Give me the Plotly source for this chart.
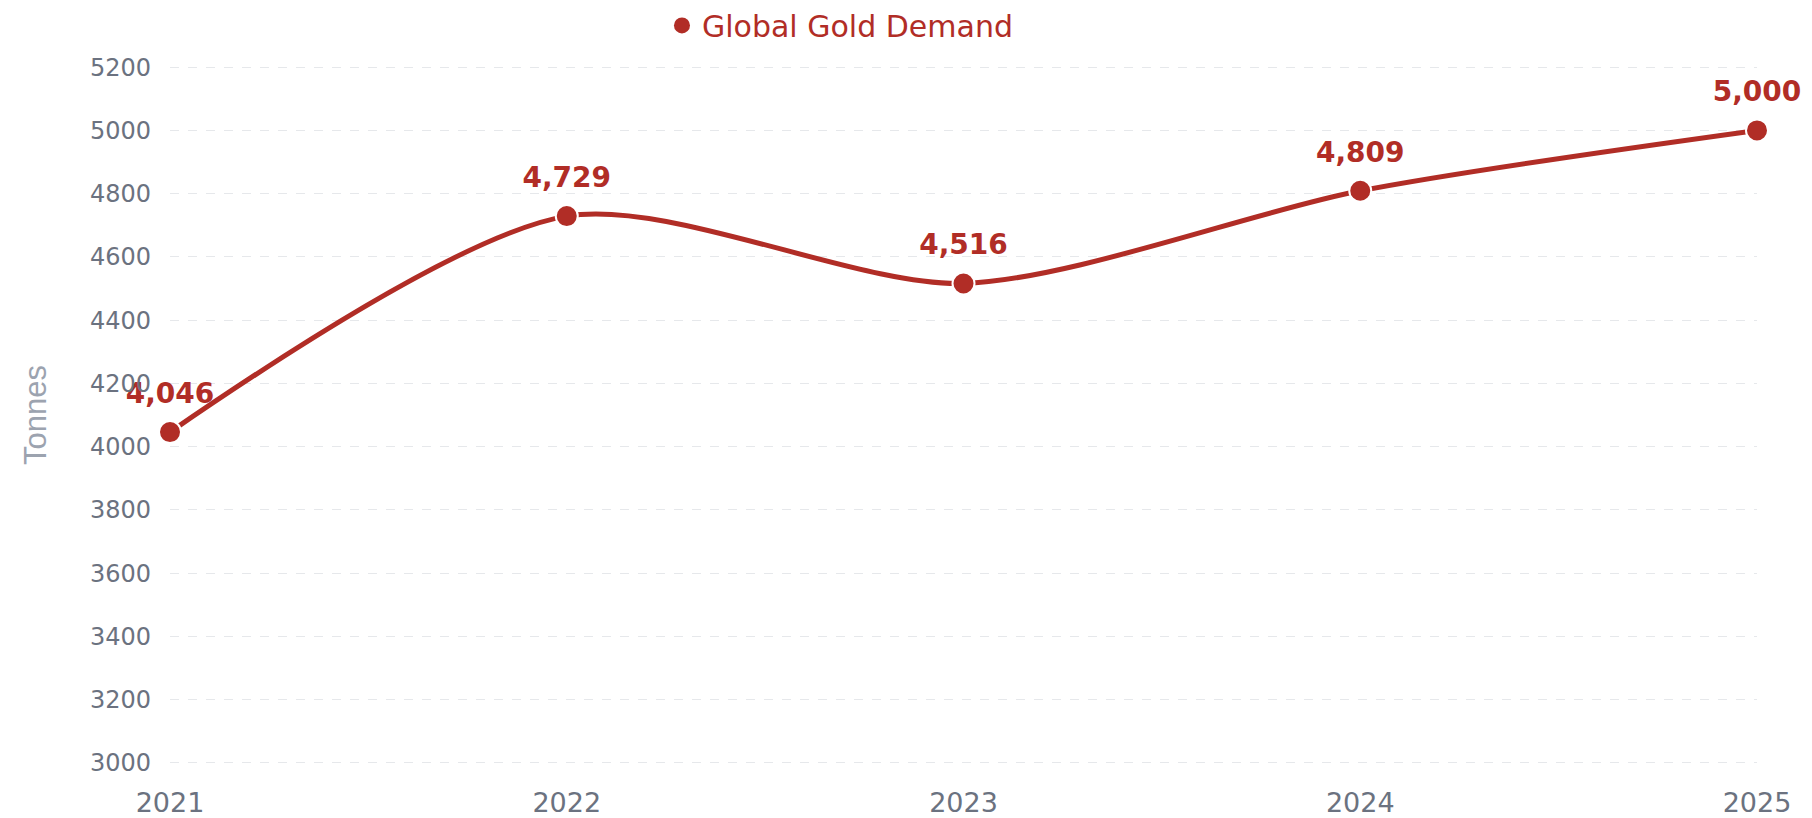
import plotly.graph_objects as go

# data
years = [2021, 2022, 2023, 2024, 2025]
demand = [4046, 4729, 4516, 4809, 5000]
labels = [f"{v:,}" for v in demand]

y_ticks = list(range(3000, 5201, 200))

RED = "#b12d26"
TICK_GREY = "#6b7280"

fig = go.Figure()

# value labels sit underneath the line (drawn first)
fig.add_trace(go.Scatter(
    x=years, y=demand, mode="markers+text",
    text=labels, textposition="top center",
    textfont=dict(family="DejaVu Sans", size=28, color=RED, weight="bold"),
    marker=dict(size=34, color="rgba(0,0,0,0)"),
    showlegend=False, hoverinfo="skip", cliponaxis=False,
))

fig.add_trace(go.Scatter(
    x=years, y=demand, mode="lines+markers",
    name="Global Gold Demand",
    line=dict(color=RED, width=5, shape="spline", smoothing=0.8),
    marker=dict(size=22, color=RED, line=dict(color="white", width=2)),
    showlegend=False, cliponaxis=False,
))

# legend entry: just a dot, like the original
fig.add_trace(go.Scatter(
    x=[None], y=[None], mode="markers", name="Global Gold Demand",
    marker=dict(size=24, color=RED),
))

# page body adds an 8px offset, so the figure is 8px smaller
fig.update_layout(
    width=1804, height=810,
    margin=dict(l=162, r=55, t=56, b=52, autoexpand=False),
    plot_bgcolor="white", paper_bgcolor="white",
    font=dict(family="DejaVu Sans", color=TICK_GREY),
    legend=dict(
        orientation="h", x=0.31, xanchor="left", y=1.055, yanchor="middle",
        font=dict(family="DejaVu Sans", size=30, color=RED),
    ),
    xaxis=dict(
        range=[2021, 2025], tickvals=years, ticktext=[str(y) for y in years],
        showgrid=False, zeroline=False, showline=False,
        tickfont=dict(size=27, color=TICK_GREY), ticklabelstandoff=18,
    ),
    yaxis=dict(
        range=[2990, 5210], tickvals=y_ticks,
        showgrid=True, gridcolor="#e6e8eb", griddash="dash", gridwidth=1,
        zeroline=False, showline=False,
        tickfont=dict(size=24, color=TICK_GREY), ticklabelstandoff=18,
        title=dict(text="Tonnes", standoff=34,
                   font=dict(family="Liberation Sans Narrow, Liberation Sans", size=31, color="#9ca3af")),
    ),
)

fig.write_html("out.html")
